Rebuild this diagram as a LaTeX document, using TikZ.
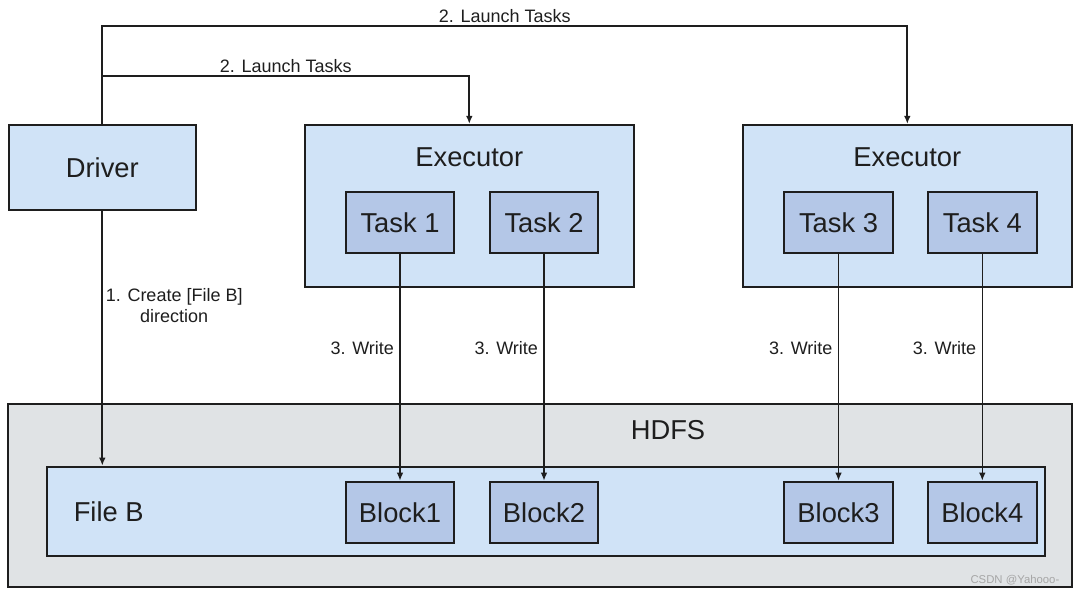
\documentclass[tikz,border=0pt]{standalone}
\usepackage{fontspec}
\setmainfont{Liberation Sans}
\usetikzlibrary{positioning}
\usetikzlibrary{arrows.meta}

\definecolor{execblue}{RGB}{208,227,247}
\definecolor{taskblue}{RGB}{180,199,231}
\definecolor{hdfsgray}{RGB}{224,227,229}
\definecolor{inkgray}{RGB}{30,30,30}

\tikzset{
  box/.style={draw=inkgray, line width=1.5pt, inner sep=0pt},
  bigtext/.style={font=\fontsize{20.5}{24}\selectfont, text=inkgray},
  smalltext/.style={font=\fontsize{13.5}{16}\selectfont, text=inkgray},
  taskbox/.style={box, fill=taskblue, bigtext, minimum width=81.5pt, minimum height=46pt},
  execbox/.style={box, fill=execblue, minimum width=247pt, minimum height=121.3pt},
  flow/.style={->, draw=inkgray, line width=1.3pt},
  write/.style={->, draw=inkgray, line width=1.1pt},
}

\begin{document}
\begin{tikzpicture}[x=0.75pt, y=-0.75pt, >={Latex[length=6pt,width=5pt]}]
    \useasboundingbox (0,0) rectangle (1081,594);

    % the HDFS frame with the file and its blocks
    \node[box, fill=hdfsgray, minimum width=797.8pt, minimum height=137.3pt] (hdfs) at (540.2,495.5) {};
    \node[bigtext] (hdfslabel) at (668,430) {HDFS};
    \node[box, fill=execblue, minimum width=748.7pt, minimum height=67pt] (fileB) at (545.8,511.3) {};
    \node[bigtext] (filelabel) at (108.7,511.7) {File B};

    \node[taskbox] (block1) at (400,512.3) {Block1};
    \node[taskbox] (block2) at (544,512.3) {Block2};
    \node[taskbox] (block3) at (838.5,512.3) {Block3};
    \node[taskbox] (block4) at (982.3,512.3) {Block4};

    % the driver and the two executors
    \node[box, fill=execblue, bigtext, minimum width=140.5pt, minimum height=63.8pt] (driver) at (102.3,167.5) {Driver};

    \node[execbox] (exec1) at (469.3,205.8) {};
    \node[bigtext, below=14.5pt of exec1.north] (exec1label) {Executor};
    \node[taskbox] (task1) at (400,222.3) {Task 1};
    \node[taskbox] (task2) at (544,222.3) {Task 2};

    \node[execbox] (exec2) at (907.3,205.8) {};
    \node[bigtext, below=14.5pt of exec2.north] (exec2label) {Executor};
    \node[taskbox] (task3) at (838.5,222.3) {Task 3};
    \node[taskbox] (task4) at (982.3,222.3) {Task 4};

    % the arrows and labels
    \coordinate (rail) at (102.3,26);
    \coordinate (branch) at (102.3,76);
    \draw[flow] (driver.north) -- (rail) -| (exec2.north)
        node[pos=0.25, above, smalltext, inner sep=2pt] {2. Launch Tasks};
    \draw[flow] (branch) -| (exec1.north)
        node[pos=0.25, above, smalltext, inner sep=2pt] {2. Launch Tasks};

    \draw[flow] (driver.south) -- (driver.south |- fileB.north)
        node[pos=0.37, right, smalltext, align=center, inner sep=2pt] {1. Create [File B]\\direction};

    \draw[write] (task1.south) -- (block1.north) node[pos=0.415, left, smalltext, inner sep=4pt] {3. Write};
    \draw[write] (task2.south) -- (block2.north) node[pos=0.415, left, smalltext, inner sep=4pt] {3. Write};
    \draw[write] (task3.south) -- (block3.north) node[pos=0.415, left, smalltext, inner sep=4pt] {3. Write};
    \draw[write] (task4.south) -- (block4.north) node[pos=0.415, left, smalltext, inner sep=4pt] {3. Write};

    \node[anchor=east, font=\fontsize{8.5}{10}\selectfont, text=gray!70] (mark) at (1064,580) {CSDN @Yahooo-};
\end{tikzpicture}
\end{document}
